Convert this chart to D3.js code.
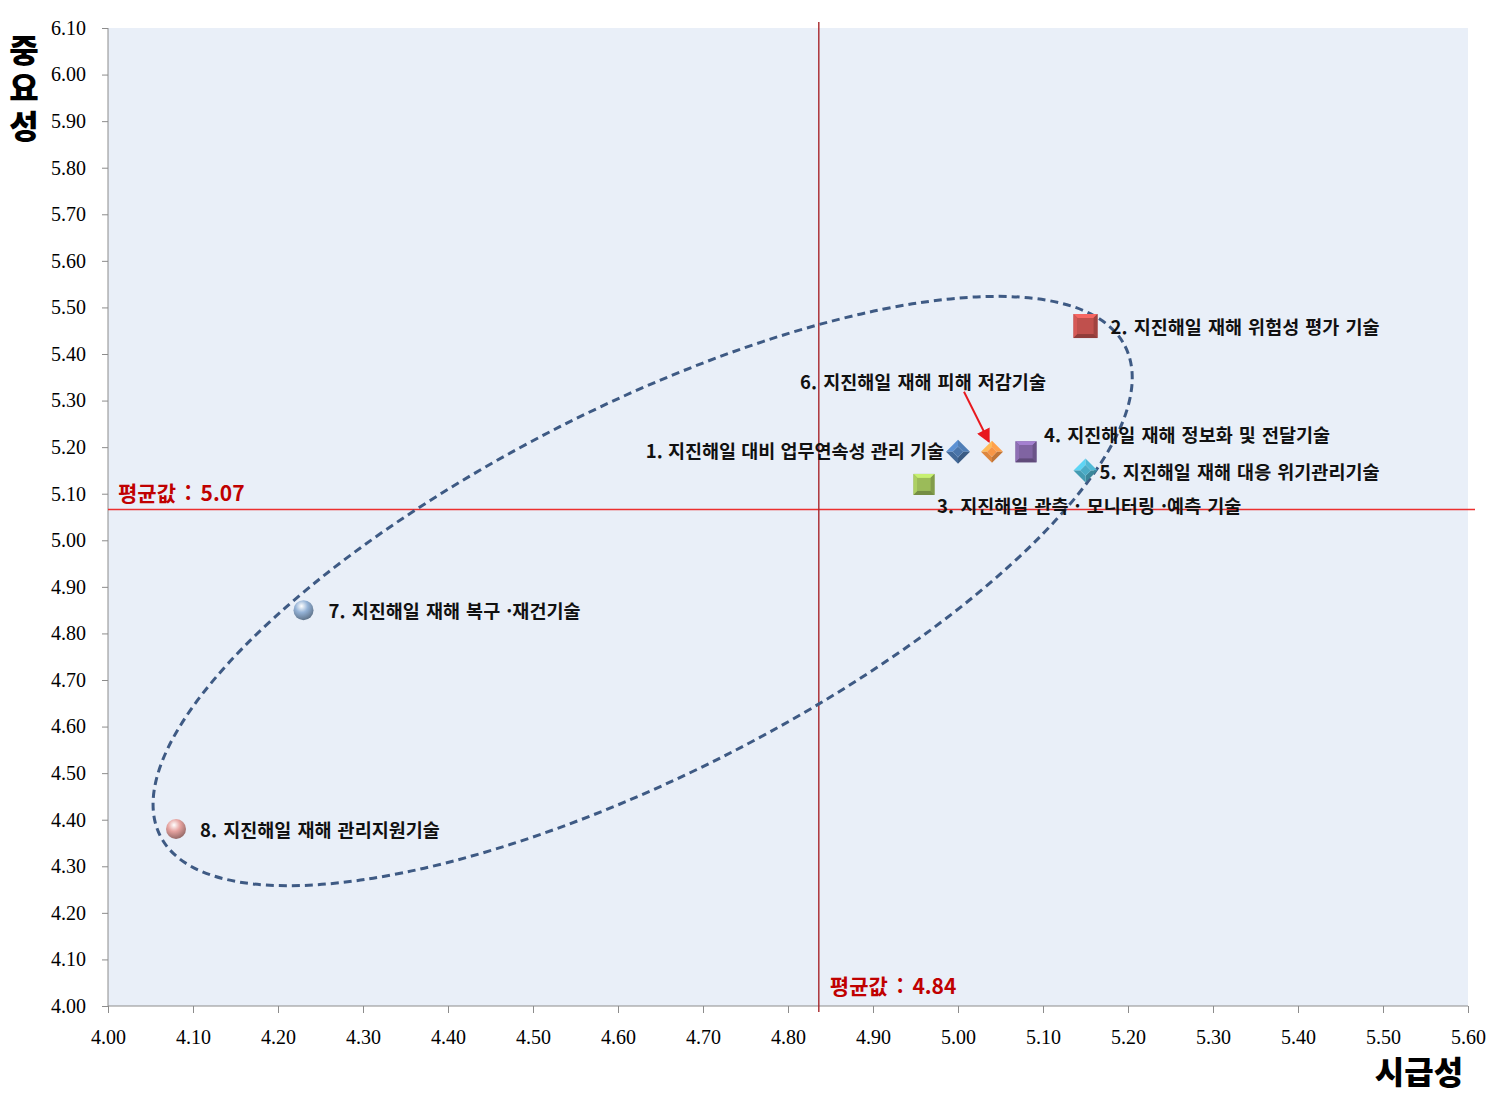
<!DOCTYPE html>
<html lang="ko">
<head>
<meta charset="UTF-8">
<title>시급성 - 중요성</title>
<script src="https://d3js.org/d3.v7.min.js"></script>
<style>
  body { margin: 0; background: #fff; }
  .tick text { font-family: "Liberation Serif", "Times New Roman", serif; font-size: 20px; fill: #000; }
  .tick line, .domain { stroke: #8c8c8c; }
  .lbl { font-family: "Noto Sans CJK KR", sans-serif; font-weight: 700; font-size: 18.5px; fill: #111; word-spacing: 1px; }
  .mean { font-family: "Noto Sans CJK KR", sans-serif; font-weight: 700; font-size: 21px; fill: #c00000; word-spacing: 3px; }
  .ttl { font-family: "Noto Sans CJK KR", sans-serif; font-weight: 900; font-size: 32px; fill: #000; }
</style>
</head>
<body>
<svg width="1499" height="1098"></svg>
<script>
// data
const names = [
  "1. 지진해일 대비 업무연속성 관리 기술",
  "2. 지진해일 재해 위험성 평가 기술",
  "3. 지진해일 관측 · 모니터링 ·예측 기술",
  "4. 지진해일 재해 정보화 및 전달기술",
  "5. 지진해일 재해 대응 위기관리기술",
  "6. 지진해일 재해 피해 저감기술",
  "7. 지진해일 재해 복구 ·재건기술",
  "8. 지진해일 재해 관리지원기술"
];
const urgency    = [5.00, 5.15, 4.96, 5.08, 5.15, 5.04, 4.23, 4.08];   // 시급성 (x)
const importance = [5.19, 5.46, 5.12, 5.19, 5.15, 5.19, 4.85, 4.38];   // 중요성 (y)
const shapes = ["diamond", "square", "square", "square", "diamond", "diamond", "sphere", "sphere"];
const colors = ["#4a75aa", "#c0504d", "#9bbb59", "#8064a2", "#4bacc6", "#f79646", "#95b3d7", "#e6a3a0"];
const xTicks = d3.range(0, 17).map(i => +(4 + i * 0.1).toFixed(2));
const yTicks = d3.range(0, 22).map(i => +(4 + i * 0.1).toFixed(2));

// label placement (pixel offsets from each marker)
const labelOff = [[-14, 0, "end"], [25, 1], [13, 22], [18, -16], [14, 2], [-192, -69], [25, 1], [24, 1]];
const markerSize = [12, 12, 10.5, 10.5, 12, 11, 10, 10];

const svg = d3.select("svg");
const m = { left: 108, top: 28, right: 1468, bottom: 1006 };

const x = d3.scaleLinear().domain([4.0, 5.6]).range([m.left, m.right]);
const y = d3.scaleLinear().domain([4.0, 6.1]).range([m.bottom, m.top]);

const defs = svg.append("defs");

// plot background
svg.append("rect")
  .attr("x", m.left).attr("y", m.top)
  .attr("width", m.right - m.left).attr("height", m.bottom - m.top)
  .attr("fill", "#e9eff8");

// axes
svg.append("g")
  .attr("transform", `translate(0,${m.bottom})`)
  .call(d3.axisBottom(x).tickValues(xTicks).tickFormat(d3.format(".2f")).tickSize(7).tickPadding(17))
  .call(g => g.select(".domain").attr("d", `M${m.left},0H${m.right}`));

svg.append("g")
  .attr("transform", `translate(${m.left},0)`)
  .call(d3.axisLeft(y).tickValues(yTicks).tickFormat(d3.format(".2f")).tickSize(6).tickPadding(16))
  .call(g => g.select(".domain").attr("d", `M0,${m.top}V${m.bottom}`));

// mean lines
const meanX = d3.mean(urgency);
const meanY = d3.mean(importance);

svg.append("line")
  .attr("x1", m.left).attr("x2", m.right + 7)
  .attr("y1", y(meanY)).attr("y2", y(meanY))
  .attr("stroke", "#ec2f2f").attr("stroke-width", 1.5);
svg.append("line")
  .attr("x1", x(meanX)).attr("x2", x(meanX))
  .attr("y1", m.top - 6).attr("y2", m.bottom + 6)
  .attr("stroke", "#a8272b").attr("stroke-width", 1.4);

svg.append("text").attr("class", "mean")
  .attr("x", m.left + 10).attr("y", y(meanY) - 16).attr("dy", "0.35em")
  .text("평균값 : " + meanY.toFixed(2));
svg.append("text").attr("class", "mean")
  .attr("x", x(meanX) + 11).attr("y", m.bottom - 19).attr("dy", "0.35em")
  .text("평균값 : " + meanX.toFixed(2));

// dashed ellipse around the group (centre in data units, radii in px)
const ell = { cx: 4.629, cy: 4.891, rx: 541, ry: 184, rot: -26.9 };
svg.append("ellipse")
  .attr("cx", 0).attr("cy", 0).attr("rx", ell.rx).attr("ry", ell.ry)
  .attr("transform", `translate(${x(ell.cx)},${y(ell.cy)}) rotate(${ell.rot})`)
  .attr("fill", "none")
  .attr("stroke", "#3e5a84").attr("stroke-width", 3)
  .attr("stroke-dasharray", "8,5");

// arrow for item 6
defs.append("marker")
  .attr("id", "ah").attr("viewBox", "0 0 10 10")
  .attr("refX", 9).attr("refY", 5)
  .attr("markerWidth", 7).attr("markerHeight", 7)
  .attr("orient", "auto")
  .append("path").attr("d", "M0,0L10,5L0,10z").attr("fill", "#e8191e");

svg.append("line")
  .attr("x1", x(urgency[5]) - 28).attr("y1", y(importance[5]) - 60)
  .attr("x2", x(urgency[5]) - 3).attr("y2", y(importance[5]) - 10)
  .attr("stroke", "#e8191e").attr("stroke-width", 2)
  .attr("marker-end", "url(#ah)");

// marker drawing
function bevelSquare(g, cx, cy, s, c) {
  const b = 4, col = d3.color(c);
  const lt = col.brighter(0.7), dk = col.darker(0.8), md = col.darker(0.3);
  g.append("rect").attr("x", cx - s).attr("y", cy - s).attr("width", 2 * s).attr("height", 2 * s).attr("fill", md);
  g.append("path").attr("fill", lt)
    .attr("d", `M${cx - s},${cy - s}H${cx + s}L${cx + s - b},${cy - s + b}H${cx - s + b}Z`);
  g.append("path").attr("fill", col.brighter(0.3))
    .attr("d", `M${cx - s},${cy - s}L${cx - s + b},${cy - s + b}V${cy + s - b}L${cx - s},${cy + s}Z`);
  g.append("path").attr("fill", dk)
    .attr("d", `M${cx - s},${cy + s}H${cx + s}L${cx + s - b},${cy + s - b}H${cx - s + b}Z`);
  g.append("path").attr("fill", col.darker(0.5))
    .attr("d", `M${cx + s},${cy - s}L${cx + s - b},${cy - s + b}V${cy + s - b}L${cx + s},${cy + s}Z`);
  g.append("rect").attr("x", cx - s + b).attr("y", cy - s + b)
    .attr("width", 2 * (s - b)).attr("height", 2 * (s - b)).attr("fill", c);
}

function bevelDiamond(g, cx, cy, s, c) {
  const col = d3.color(c), i = s * 0.45;
  const faces = [
    [[cx - s, cy], [cx, cy - s], [cx, cy - i], [cx - i, cy], col.brighter(0.6)],
    [[cx, cy - s], [cx + s, cy], [cx + i, cy], [cx, cy - i], col.brighter(0.2)],
    [[cx + s, cy], [cx, cy + s], [cx, cy + i], [cx + i, cy], col.darker(0.7)],
    [[cx, cy + s], [cx - s, cy], [cx - i, cy], [cx, cy + i], col.darker(0.3)]
  ];
  faces.forEach(f => g.append("path").attr("fill", f[4])
    .attr("d", "M" + f.slice(0, 4).map(p => p.join(",")).join("L") + "Z"));
  g.append("path").attr("fill", c)
    .attr("d", `M${cx - i},${cy}L${cx},${cy - i}L${cx + i},${cy}L${cx},${cy + i}Z`);
}

function sphere(g, cx, cy, r, c, k) {
  const gr = defs.append("radialGradient").attr("id", "sg" + k)
    .attr("cx", "40%").attr("cy", "30%").attr("r", "70%");
  gr.append("stop").attr("offset", "0%").attr("stop-color", "#ffffff");
  gr.append("stop").attr("offset", "45%").attr("stop-color", c);
  gr.append("stop").attr("offset", "100%").attr("stop-color", d3.color(c).darker(1.2));
  g.append("circle").attr("cx", cx).attr("cy", cy).attr("r", r).attr("fill", `url(#sg${k})`);
}

const pts = svg.append("g");
names.forEach((n, i) => {
  const cx = x(urgency[i]), cy = y(importance[i]);
  const g = pts.append("g");
  if (shapes[i] === "square") bevelSquare(g, cx, cy, markerSize[i], colors[i]);
  else if (shapes[i] === "diamond") bevelDiamond(g, cx, cy, markerSize[i], colors[i]);
  else sphere(g, cx, cy, markerSize[i], colors[i], i);
});

svg.append("g").selectAll("text")
  .data(names)
  .join("text")
  .attr("class", "lbl")
  .attr("x", (d, i) => x(urgency[i]) + labelOff[i][0])
  .attr("y", (d, i) => y(importance[i]) + labelOff[i][1])
  .attr("dy", "0.35em")
  .attr("text-anchor", (d, i) => labelOff[i][2] || "start")
  .style("word-spacing", (d, i) => i === 0 ? "0px" : null)
  .text(d => d);

// axis titles
svg.append("text").attr("class", "ttl")
  .attr("x", 24).attr("y", 34)
  .style("writing-mode", "vertical-rl")
  .style("text-orientation", "upright")
  .style("letter-spacing", "6px")
  .text("중요성");

svg.append("text").attr("class", "ttl")
  .attr("x", 1419).attr("y", 1073).attr("dy", "0.35em")
  .attr("text-anchor", "middle")
  .text("시급성");
</script>
</body>
</html>
